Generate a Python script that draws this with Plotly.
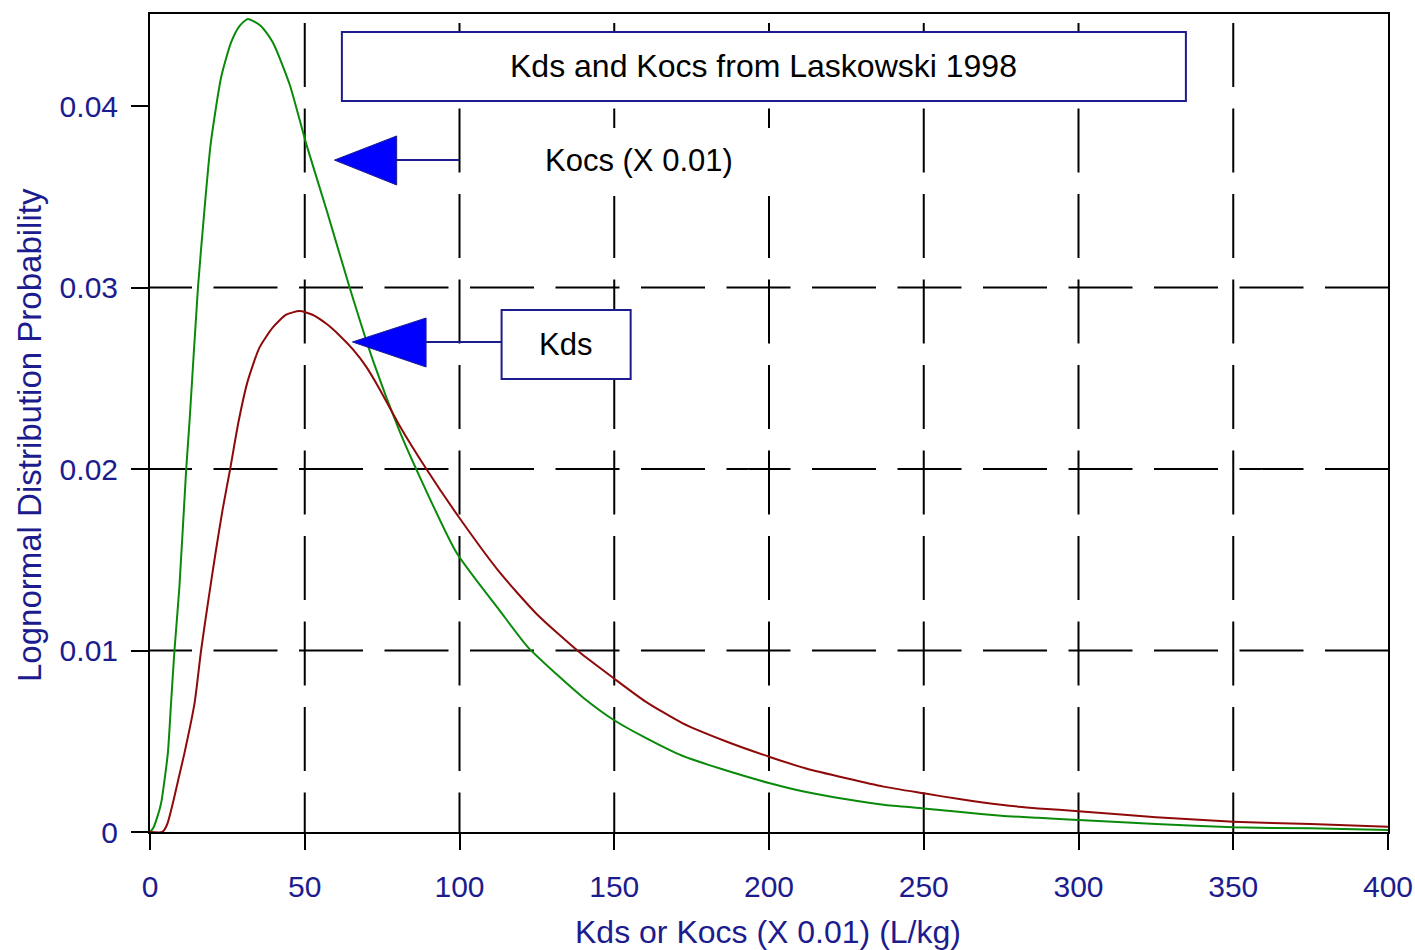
import plotly.graph_objects as go

# ---- data ----
kocs_x = [0, 1.0, 2.5, 3.6, 4.8, 5.8, 6.8, 7.9, 9.5, 11.7, 12.8, 15.5, 17.6, 19.6, 23.0, 26.2, 28.9,
          31.6, 35.9, 39.7, 45.1, 50.5, 57.0, 64.5, 72.0, 80.6, 86.0, 99.0, 113, 122, 131.3, 140,
          149.6, 160, 172, 186, 200, 212, 225, 237, 250, 262, 275, 287, 300, 325, 350, 375, 400]
kocs_y = [0, 0.0002, 0.0009, 0.0016, 0.0030, 0.0044, 0.0071, 0.0100, 0.0135, 0.0200, 0.0227, 0.0300,
          0.0343, 0.0379, 0.0416, 0.0435, 0.0444, 0.0448, 0.0444, 0.0435, 0.0412, 0.0379, 0.0343,
          0.0300, 0.0260, 0.0221, 0.0200, 0.0154, 0.0122, 0.0102, 0.0087, 0.0074, 0.0062, 0.0052,
          0.0042, 0.0034, 0.0027, 0.0022, 0.0018, 0.0015, 0.0013, 0.0011, 0.0009, 0.00078, 0.00066,
          0.00044, 0.00026, 0.0002, 0.00011]

kds_x = [0, 4.0, 5.5, 7.4, 9.3, 11.2, 14.4, 16.5, 18.7, 21.2, 23.5, 25.9, 28.6, 31.5, 35.4, 39.7, 44,
         48.3, 52.5, 57.0, 61, 65.5, 70, 74.2, 80.6, 89.3, 100, 113, 125, 138.8, 149.6, 160, 172,
         186, 200, 212, 225, 237, 250, 262, 275, 287, 300, 325, 350, 375, 400]
kds_y = [0, 0, 0.0004, 0.0016, 0.0030, 0.0044, 0.0071, 0.0100, 0.0126, 0.0154, 0.0178, 0.0200,
         0.0226, 0.0248, 0.0267, 0.0278, 0.0285, 0.0287, 0.0285, 0.0280, 0.0274, 0.0266, 0.0256,
         0.0244, 0.0224, 0.0200, 0.0173, 0.0143, 0.0120, 0.0099, 0.0085, 0.0072, 0.0060, 0.0050,
         0.00415, 0.0035, 0.00296, 0.0025, 0.00213, 0.0018, 0.0015, 0.0013, 0.00115, 0.00081,
         0.00057, 0.00044, 0.00029]

x_ticks = [0, 50, 100, 150, 200, 250, 300, 350, 400]
y_ticks = [0, 0.01, 0.02, 0.03, 0.04]
y_tick_text = ["0", "0.01", "0.02", "0.03", "0.04"]
y_grid = [0.01, 0.02, 0.03]
x_grid = [50, 100, 150, 200, 250, 300, 350]

X_MAX = 400
Y_MAX = 0.04507

NAVY = "#1c1c8e"
FONT = "Arial, Liberation Sans, sans-serif"

fig = go.Figure()
fig.add_trace(go.Scatter(x=kocs_x, y=kocs_y, mode="lines", name="Kocs",
                         line=dict(color="#0a8a0a", width=2, shape="spline", smoothing=0.6)))
fig.add_trace(go.Scatter(x=kds_x, y=kds_y, mode="lines", name="Kds",
                         line=dict(color="#8e0a0a", width=2, shape="spline", smoothing=0.6)))

shapes = []
# dashed grid
for gx in x_grid:
    shapes.append(dict(type="line", xref="x", yref="paper", x0=gx, x1=gx, y0=1, y1=0,
                       line=dict(color="black", width=2, dash="0px,9px,64px,12.5px"), layer="below"))
for gy in y_grid:
    shapes.append(dict(type="line", xref="paper", yref="y", x0=0, x1=1, y0=gy, y1=gy,
                       line=dict(color="black", width=2, dash="42px,21.5px,22px,0px"), layer="below"))

# title box
shapes.append(dict(type="rect", xref="x", yref="y", x0=62, x1=334.7, y0=0.04028, y1=0.04408,
                   line=dict(color=NAVY, width=2), fillcolor="white", layer="above"))
# white background behind Kocs label
shapes.append(dict(type="rect", xref="x", yref="y", x0=114.6, x1=206.7, y0=0.03504, y1=0.03879,
                   line=dict(width=0), fillcolor="white", layer="above"))
# Kds box
shapes.append(dict(type="rect", xref="x", yref="y", x0=113.6, x1=155.3, y0=0.02496, y1=0.02876,
                   line=dict(color=NAVY, width=2), fillcolor="white", layer="above"))
# connector lines
shapes.append(dict(type="line", xref="x", yref="y", x0=79.7, x1=100.0, y0=0.03702, y1=0.03702,
                   line=dict(color=NAVY, width=2), layer="above"))
shapes.append(dict(type="line", xref="x", yref="y", x0=89.2, x1=113.6, y0=0.02700, y1=0.02700,
                   line=dict(color=NAVY, width=2), layer="above"))
# arrow heads
shapes.append(dict(type="path", xref="x", yref="y",
                   path="M 59.6,0.03702 L 79.7,0.03835 L 79.7,0.03565 Z",
                   fillcolor="#0000ff", line=dict(color=NAVY, width=1), layer="above"))
shapes.append(dict(type="path", xref="x", yref="y",
                   path="M 65.4,0.02700 L 89.2,0.02832 L 89.2,0.02562 Z",
                   fillcolor="#0000ff", line=dict(color=NAVY, width=1), layer="above"))

annotations = [
    dict(xref="x", yref="y", x=198.3, y=0.04218, text="Kds and Kocs from Laskowski 1998",
         showarrow=False, font=dict(family=FONT, size=32, color="black"),
         xanchor="center", yanchor="middle"),
    dict(xref="x", yref="y", x=157.9, y=0.03702, text="Kocs (X 0.01)",
         showarrow=False, font=dict(family=FONT, size=31, color="black"),
         xanchor="center", yanchor="middle"),
    dict(xref="x", yref="y", x=134.4, y=0.02686, text="Kds",
         showarrow=False, font=dict(family=FONT, size=31, color="black"),
         xanchor="center", yanchor="middle"),
    dict(xref="paper", yref="paper", x=(30 - 150) / 1238, y=(832 - 435) / 818,
         text="Lognormal Distribution Probability", textangle=-90, showarrow=False,
         font=dict(family=FONT, size=33, color=NAVY), xanchor="center", yanchor="middle"),
    dict(xref="paper", yref="paper", x=(768 - 150) / 1238, y=(832 - 932) / 818,
         text="Kds or Kocs (X 0.01) (L/kg)", showarrow=False,
         font=dict(family=FONT, size=32, color=NAVY), xanchor="center", yanchor="middle"),
]

fig.update_layout(
    width=1415, height=950,
    margin=dict(l=150, r=27, t=14, b=118, autoexpand=False),
    paper_bgcolor="white", plot_bgcolor="white",
    showlegend=False,
    shapes=shapes, annotations=annotations,
    font=dict(family=FONT),
)
fig.update_xaxes(range=[0, X_MAX], tickvals=x_ticks, showgrid=False, zeroline=False,
                 showline=True, linecolor="black", linewidth=2, mirror=True, automargin=False,
                 ticks="outside", ticklen=16, tickwidth=2, tickcolor="black",
                 tickfont=dict(family=FONT, size=30, color=NAVY), ticklabelstandoff=11)
fig.update_yaxes(range=[0, Y_MAX], tickvals=y_ticks, ticktext=y_tick_text, showgrid=False,
                 zeroline=False, showline=True, linecolor="black", linewidth=2, mirror=True,
                 automargin=False,
                 ticks="outside", ticklen=17, tickwidth=2, tickcolor="black",
                 tickfont=dict(family=FONT, size=30, color=NAVY), ticklabelstandoff=7)

fig.write_html("out.html")
